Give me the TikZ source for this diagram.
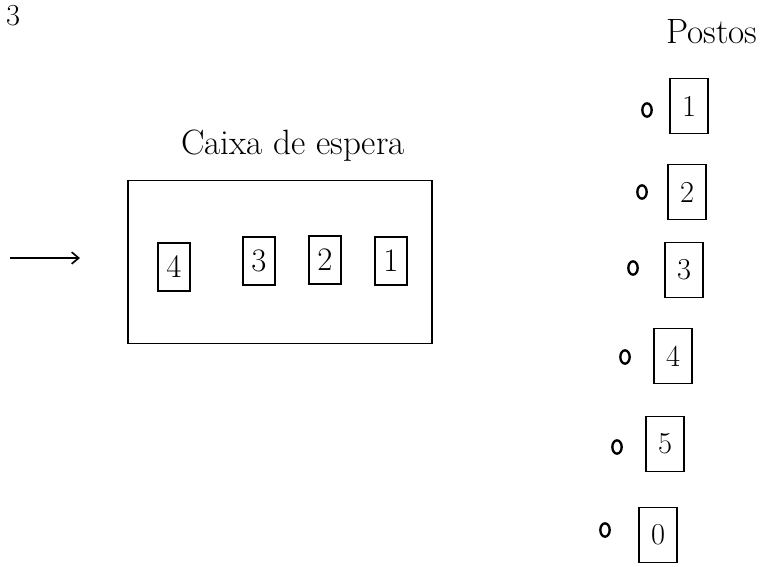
\documentclass[tikz,border=0pt]{standalone}
\usetikzlibrary{arrows.meta,shapes.geometric}
\tikzset{
  traco/.style={line width=1.4pt},
  posto/.style={traco, draw, minimum width=1.15cm, minimum height=1.65cm, inner sep=0pt, font=\fontsize{26}{26}\selectfont},
  ficha/.style={traco, draw, minimum width=0.95cm, minimum height=1.45cm, inner sep=0pt, font=\fontsize{28}{28}\selectfont},
  bola/.style={line width=2pt, draw, ellipse, minimum width=0.28cm, minimum height=0.4cm, inner sep=0pt},
  rotulo/.style={font=\fontsize{30}{30}\selectfont}
}
\begin{document}
\begin{tikzpicture}[x=0.03cm,y=-0.03cm]
\useasboundingbox (0,0) rectangle (767,566);

\node[font=\fontsize{26}{26}\selectfont, anchor=north west, inner sep=0pt] (fig) at (6,5) {3};

\node[rotulo] (titulo) at (293,146) {Caixa de espera};
\node[traco, draw, minimum width=9.12cm, minimum height=4.9cm] (caixa) at (280,262) {};
\node[ficha] (f4) at (174,267) {4};
\node[ficha] (f3) at (259,261) {3};
\node[ficha] (f2) at (325,260) {2};
\node[ficha] (f1) at (391,261) {1};

\coordinate (entrada) at (10,258);
\coordinate (seta) at (80,258);
\draw[traco, -{Straight Barb[length=6pt,width=10pt]}] (entrada) -- (seta);

\node[rotulo] (postos) at (712,32) {Postos};
\node[posto] (p1) at (689,106) {1};
\node[posto] (p2) at (687,192) {2};
\node[posto] (p3) at (684,270) {3};
\node[posto] (p4) at (673,356) {4};
\node[posto] (p5) at (665,444) {5};
\node[posto] (p0) at (658,535) {0};
\node[bola] (b1) at (647,110) {};
\node[bola] (b2) at (642,192) {};
\node[bola] (b3) at (633,268) {};
\node[bola] (b4) at (625,357) {};
\node[bola] (b5) at (617,447) {};
\node[bola] (b0) at (605,530) {};
\end{tikzpicture}
\end{document}
